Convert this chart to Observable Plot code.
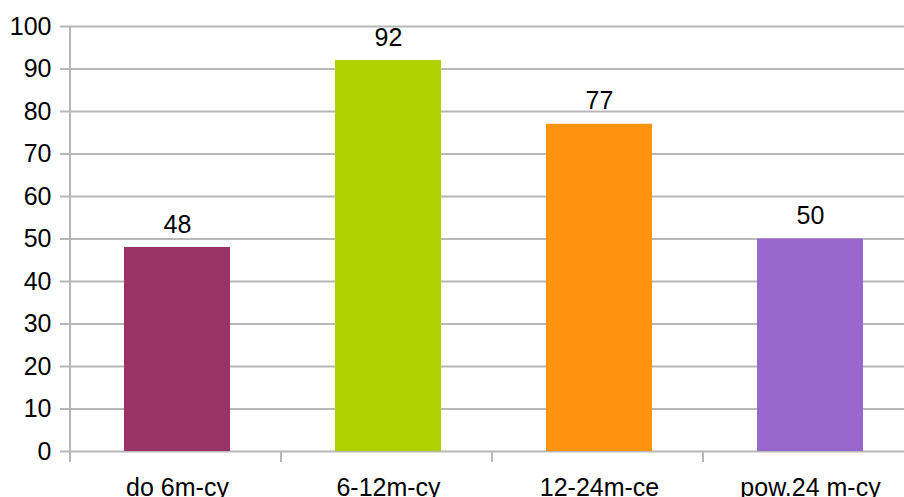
<!DOCTYPE html>
<html><head><meta charset="utf-8">
<script src="https://cdn.jsdelivr.net/npm/d3@7"></script>
<script src="https://cdn.jsdelivr.net/npm/@observablehq/plot@0.6"></script>
<style>
html,body{margin:0;padding:0;background:#fff;}
svg{font-family:"Liberation Sans",Arial,sans-serif;}
</style></head>
<body><div id="chart"></div>
<script>
const categories = ["do 6m-cy", "6-12m-cy", "12-24m-ce", "pow.24 m-cy"];
const values = [48, 92, 77, 50];
const colors = ["#993366", "#b0d200", "#ff9410", "#9966cc"];
const yTicks = [0, 10, 20, 30, 40, 50, 60, 70, 80, 90, 100];

const data = categories.map((c, i) => ({cat: c, value: values[i], color: colors[i]}));
const gridColor = "#b8b8b8";

const plot = Plot.plot({
  width: 904,
  height: 497,
  marginLeft: 70,
  marginRight: 0,
  marginTop: 26,
  marginBottom: 46,
  style: {fontFamily: "Liberation Sans, Arial, sans-serif", fontSize: "25px", color: "#000", background: "#fff", overflow: "hidden"},
  x: {domain: categories, range: [70, 916.5], paddingInner: 0.5, paddingOuter: 0.25, axis: null, label: null},
  y: {domain: [0, 100], axis: null, label: null},
  marks: [
    Plot.ruleY(yTicks, {y: d => d, stroke: gridColor, strokeWidth: 2}),
    Plot.barY(data, {x: "cat", y: "value", fill: "color"}),
    Plot.text(data, {x: "cat", y: "value", text: d => String(d.value), dy: -23, fontSize: 25, fill: "#000"}),
    Plot.axisY({ticks: yTicks, tickSize: 10, tickPadding: 9, fontSize: 25, tickFormat: d => String(d), stroke: gridColor, strokeWidth: 2, strokeOpacity: 1, fill: "#000", label: null}),
    Plot.axisX({tickSize: 0, tickPadding: 27, fontSize: 25, fill: "#000", label: null})
  ]
});

// y axis line and category separator ticks derived from scales
const svg = d3.select(plot);
const xs = plot.scale("x");
const ys = plot.scale("y");
const y0 = ys.apply(0), y100 = ys.apply(100);
const step = xs.step;
const bounds = [0, 1, 2, 3, 4].map(i => xs.range[0] + i * step);
svg.append("line").attr("x1", 70).attr("x2", 70).attr("y1", y100).attr("y2", y0 + 11)
  .attr("stroke", gridColor).attr("stroke-width", 2);
bounds.forEach(b => {
  svg.append("line").attr("x1", b).attr("x2", b).attr("y1", y0).attr("y2", y0 + 11)
    .attr("stroke", gridColor).attr("stroke-width", 2);
});
document.getElementById("chart").appendChild(plot);
</script>
</body></html>
